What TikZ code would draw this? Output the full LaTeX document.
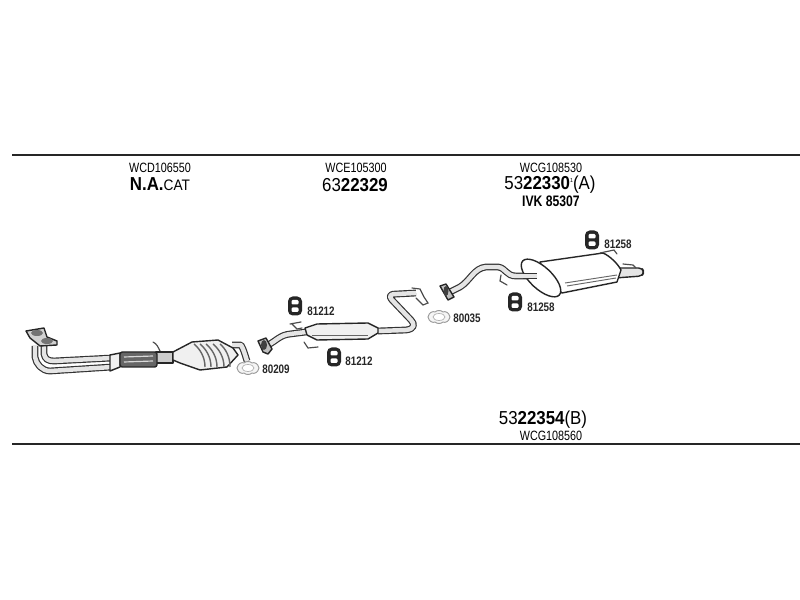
\documentclass[tikz,border=0pt]{standalone}
\usepackage{fontspec}
\setmainfont[FakeStretch=0.8]{Liberation Sans}
\newfontfamily\widefont[FakeStretch=0.9]{Liberation Sans}
\tikzset{
  rule/.style={draw=black!85, line width=1.6pt},
  pipe/.style={draw=black!80, line width=1pt, double=black!10, double distance=3.8pt, line join=round},
  hook/.style={draw=black!70, line width=1pt, line cap=round},
  body/.style={draw=black!85, line width=1.2pt, fill=black!6, line join=round},
  rib/.style={draw=black!60, line width=1.2pt},
  code/.style={inner sep=0pt, font=\fontsize{11.5}{12}\selectfont},
  partno/.style={inner sep=0pt, font=\widefont\fontsize{16}{16}\selectfont},
  small/.style={inner sep=0pt, font=\bfseries\fontsize{10.5}{11}\selectfont, text=black!85},
  hanger/.pic={
    \fill[black!85, rounded corners=4pt] (-7,-9.5) rectangle (7,9.5);
    \fill[white, rounded corners=1pt] (-3.5,-6) rectangle (3.5,-1.5) (-3.5,1.5) rectangle (3.5,6);
  },
  gasket/.pic={
    \draw[black!40, line width=0.8pt, fill=black!4] (-11,0) .. controls (-10,-5) and (-6,-6) .. (-4,-5) .. controls (-2,-7) and (2,-7) .. (4,-5) .. controls (6,-6) and (10,-5) .. (11,0) .. controls (10,5) and (6,6) .. (4,5) .. controls (2,7) and (-2,7) .. (-4,5) .. controls (-6,6) and (-10,5) .. (-11,0) -- cycle;
    \draw[black!30, line width=0.6pt, fill=white] (0,0) ellipse [x radius=6, y radius=3.5];
  }
}
\begin{document}
\begin{tikzpicture}[x=0.03cm, y=-0.03cm]
  \useasboundingbox (0,0) rectangle (800,600);

  % Rules
  \coordinate (topA) at (12,155);
  \coordinate (topB) at (800,155);
  \coordinate (botA) at (12,444);
  \coordinate (botB) at (800,444);
  \draw[rule] (topA) -- (topB);
  \draw[rule] (botA) -- (botB);

  % Header texts
  \node[code] (frontref) at (160,168) {WCD106550};
  \node[partno] (frontno) at (160,184) {\textbf{N.A.}\fontsize{13}{14}\selectfont CAT};
  \node[code] (midref) at (356,168) {WCE105300};
  \node[partno] (midno) at (355,185) {63\textbf{22329}};
  \node[code] (rearref) at (551,168) {WCG108530};
  \node[partno] (rearno) at (550,185) {53\textbf{22330}\raisebox{6pt}{\fontsize{5}{5}\selectfont 1}(A)};
  \node[inner sep=0pt, font=\bfseries\fontsize{13}{14}\selectfont] (rearmk) at (551,201) {IVK 85307};
  \node[partno] (lowno) at (543,420) {53\textbf{22354}(B)};
  \node[code] (lowref) at (551,436) {WCG108560};

  % Front pipe with catalyst
  \draw[pipe] (35,346) -- (35,357) .. controls (36,364) and (42,371) .. (50,371) -- (112,367);
  \draw[pipe] (44,346) -- (44,354) .. controls (45,359) and (48,361) .. (54,361) -- (112,358);
  \draw[body] (110,355) -- (120,353) -- (120,367) -- (110,371) -- cycle;
  \draw[hook] (153,342) .. controls (157,344) and (158,347) .. (160,351);
  \draw[body, fill=black!20] (156,352) rectangle (173,363);
  \draw[black!85, line width=1.2pt, fill=black!60, rounded corners=2pt] (120,352) rectangle (157,367);
  \draw[black!15, line width=1pt] (124,357) -- (153,356) (124,362) -- (153,361);
  \draw[pipe] (232,345) -- (241,345) .. controls (244,350) and (245,355) .. (247,361);
  \draw[body] (173,352) -- (192,342) -- (218,340) -- (233,348) -- (238,355) -- (227,367) -- (200,370) -- (180,363) -- (173,360) -- cycle;
  \foreach \xa/\xb in {194/205, 200/211, 206/217, 213/224, 220/230}
    \draw[rib] (\xa,344) .. controls (\xa+6,349) and (\xb,357) .. (\xb,367);
  \draw[body, fill=black!18] (26,331) -- (44,328) -- (47,337) -- (57,341) -- (57,345) -- (40,346) -- (30,338) -- cycle;
  \fill[black!55] (37,333) ellipse [x radius=6, y radius=3] (47,341) ellipse [x radius=6, y radius=3];
  \pic at (248,368) {gasket};
  \node[small] (lblgasketA) at (276,369) {80209};

  % Middle pipe with silencer
  \draw[pipe] (268,345) .. controls (276,341) and (280,335) .. (290,334) -- (306,332);
  \draw[pipe] (378,331) -- (406,330) .. controls (415,329) and (415,324) .. (411,320) -- (392,300) .. controls (388,295) and (391,294) .. (397,294) -- (416,293);
  \draw[body] (305,328) -- (317,324) -- (368,323) -- (378,328) -- (378,333) -- (368,339) -- (317,340) -- (307,335) -- cycle;
  \draw[rib, line width=0.8pt] (312,335) -- (368,335);
  \draw[hook] (290,324) -- (301,322) (292,324) -- (297,329) -- (302,328);
  \draw[hook] (304,342) -- (308,348) -- (318,347);
  \draw[body, fill=black!25] (258,341) -- (266,338) -- (272,349) -- (268,354) -- (263,352) -- cycle;
  \fill[black!75] (264,345) ellipse [x radius=3, y radius=5];
  \draw[hook] (412,288) -- (420,289) -- (424,297) -- (428,303) -- (423,305) -- (416,298);
  \pic at (295,306) {hanger};
  \pic at (334,357) {hanger};
  \node[small] (lblhangerA) at (321,311) {81212};
  \node[small] (lblhangerB) at (359,361) {81212};
  \pic at (439,317) {gasket};
  \node[small] (lblgasketB) at (467,318) {80035};

  % Rear pipe with silencer
  \draw[pipe] (448,293) -- (460,287) .. controls (470,281) and (474,268) .. (486,267) -- (498,267) .. controls (506,268) and (506,276) .. (516,276) -- (537,276);
  \draw[hook] (501,275) -- (500,281) -- (507,285);
  \draw[body, fill=black!25] (440,286) -- (446,284) -- (454,297) -- (448,300) -- cycle;
  \fill[black!75] (446,291) ellipse [x radius=2.5, y radius=5];
  \draw[body, fill=black!10, rounded corners=3pt] (615,268) -- (642,268) -- (644,272) -- (642,276) -- (615,278) -- cycle;
  \draw[hook] (623,264) -- (633,265) -- (636,268);
  \draw[body, fill=white] (540,262) -- (603,253) .. controls (610,256) and (618,264) .. (621,270) -- (617,282) -- (562,293) -- (548,280) -- cycle;
  \draw[rib, line width=0.8pt] (565,283) -- (617,275) (567,286) -- (616,278);
  \draw[body, fill=white] (541,278) ellipse [x radius=25, y radius=11, rotate=-43];
  \draw[pipe] (523,276) -- (537,276);
  \draw[hook] (600,253) -- (614,250) -- (617,254);
  \pic at (592,240) {hanger};
  \pic at (515,302) {hanger};
  \node[small] (lblhangerC) at (618,244) {81258};
  \node[small] (lblhangerD) at (541,307) {81258};

\end{tikzpicture}
\end{document}
